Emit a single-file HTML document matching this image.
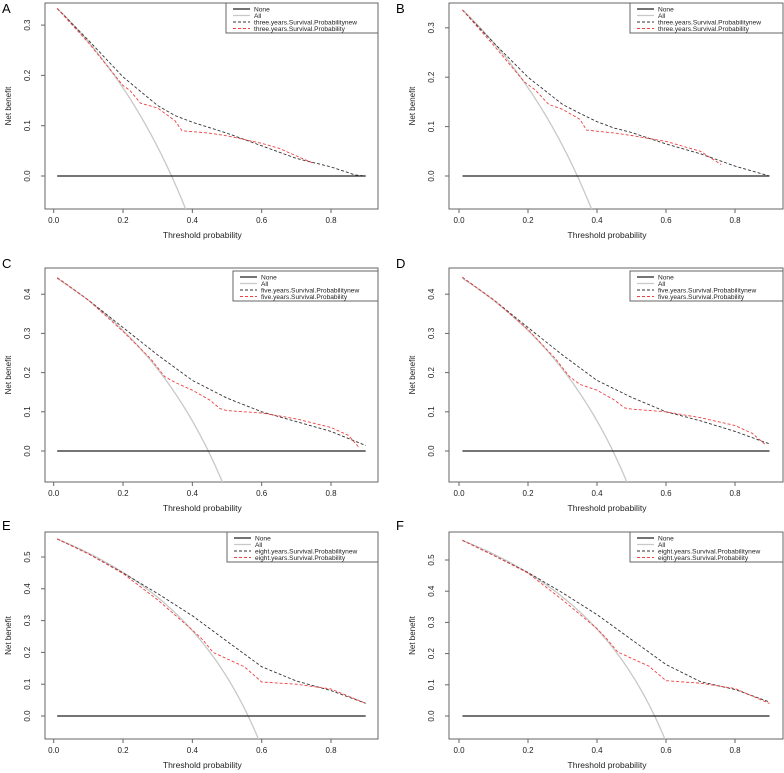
<!DOCTYPE html>
<html><head><meta charset="utf-8"><style>
html,body{margin:0;padding:0;background:#fff;overflow:hidden;}
svg{display:block;font-family:"Liberation Sans",sans-serif;}
</style></head><body>
<svg id="fig" width="784" height="773" viewBox="0 0 784 773" xmlns="http://www.w3.org/2000/svg"></svg>
<script>
// ---- data ----
const xTicks = [0.0, 0.2, 0.4, 0.6, 0.8];
const xTickLabels = ["0.0", "0.2", "0.4", "0.6", "0.8"];
const allPrevalence = [0.34, 0.343, 0.446, 0.446, 0.561, 0.567];
const yTicksA = [0, 0.1, 0.2, 0.3];
const yTicksC = [0, 0.1, 0.2, 0.3, 0.4];
const yTicksE = [0, 0.1, 0.2, 0.3, 0.4, 0.5];
const newTA = [0.01,0.1,0.2,0.3,0.35,0.4,0.5,0.6,0.7,0.8,0.87,0.9];
const newVA = [0.333,0.27,0.197,0.14,0.12,0.107,0.085,0.06,0.035,0.018,0.002,0.0];
const oldTA = [0.01,0.1,0.2,0.22,0.25,0.3,0.35,0.37,0.45,0.5,0.6,0.65,0.7,0.75];
const oldVA = [0.333,0.265,0.18,0.17,0.145,0.135,0.11,0.09,0.085,0.08,0.065,0.055,0.04,0.025];
const newTB = [0.01,0.1,0.2,0.3,0.35,0.4,0.45,0.5,0.6,0.7,0.8,0.9];
const newVB = [0.336,0.27,0.2,0.145,0.127,0.11,0.097,0.088,0.065,0.045,0.02,0.0];
const oldTB = [0.01,0.1,0.19,0.22,0.26,0.3,0.35,0.37,0.45,0.5,0.6,0.7,0.76];
const oldVB = [0.336,0.265,0.19,0.175,0.145,0.135,0.115,0.093,0.087,0.082,0.07,0.05,0.023];
const newTC = [0.01,0.1,0.2,0.3,0.4,0.5,0.6,0.7,0.8,0.9];
const newVC = [0.442,0.385,0.315,0.245,0.18,0.135,0.1,0.075,0.05,0.014];
const oldTC = [0.01,0.1,0.2,0.28,0.32,0.35,0.4,0.45,0.48,0.5,0.6,0.7,0.8,0.85,0.88];
const oldVC = [0.442,0.385,0.305,0.235,0.19,0.175,0.155,0.13,0.108,0.103,0.097,0.082,0.06,0.04,0.01];
const newTD = [0.01,0.1,0.2,0.3,0.4,0.5,0.6,0.7,0.8,0.9];
const newVD = [0.443,0.386,0.315,0.245,0.18,0.137,0.1,0.077,0.05,0.018];
const oldTD = [0.01,0.1,0.2,0.28,0.32,0.35,0.4,0.45,0.48,0.5,0.6,0.7,0.8,0.85,0.89];
const oldVD = [0.443,0.386,0.31,0.235,0.19,0.17,0.155,0.13,0.11,0.107,0.1,0.085,0.065,0.045,0.015];
const newTE = [0.01,0.1,0.2,0.3,0.4,0.5,0.6,0.7,0.8,0.9];
const newVE = [0.557,0.51,0.45,0.385,0.315,0.235,0.155,0.11,0.08,0.04];
const oldTE = [0.01,0.1,0.2,0.3,0.4,0.43,0.46,0.5,0.55,0.6,0.7,0.8,0.9];
const oldVE = [0.557,0.51,0.448,0.365,0.27,0.24,0.2,0.18,0.155,0.107,0.1,0.085,0.04];
const newTF = [0.01,0.1,0.2,0.3,0.4,0.5,0.6,0.7,0.8,0.9];
const newVF = [0.563,0.515,0.46,0.395,0.325,0.245,0.165,0.11,0.085,0.045];
const oldTF = [0.01,0.1,0.2,0.3,0.4,0.43,0.46,0.5,0.55,0.6,0.7,0.8,0.9];
const oldVF = [0.563,0.515,0.458,0.372,0.28,0.245,0.205,0.185,0.16,0.113,0.105,0.088,0.04];
const legendLabels3 = ["None","All","three.years.Survival.Probabilitynew","three.years.Survival.Probability"];
const legendLabels5 = ["None","All","five.years.Survival.Probabilitynew","five.years.Survival.Probability"];
const legendLabels8 = ["None","All","eight.years.Survival.Probabilitynew","eight.years.Survival.Probability"];

const panels = [
 {id:"A",L:45,R:378,T:3,B:209,x0:53.7,x8:331,y0:176,yu:503,yt:yTicksA,nt:newTA,nv:newVA,ot:oldTA,ov:oldVA,p:allPrevalence[0],lg:legendLabels3,lgx:226,lgy:3,lx:2,ly:13},
 {id:"B",L:449,R:783,T:3,B:209,x0:459,x8:735,y0:176,yu:494,yt:yTicksA,nt:newTB,nv:newVB,ot:oldTB,ov:oldVB,p:allPrevalence[1],lg:legendLabels3,lgx:630,lgy:3,lx:396,ly:13},
 {id:"C",L:45,R:378,T:268,B:482,x0:53.7,x8:331,y0:451,yu:392,yt:yTicksC,nt:newTC,nv:newVC,ot:oldTC,ov:oldVC,p:allPrevalence[2],lg:legendLabels5,lgx:233,lgy:271,lx:2,ly:268},
 {id:"D",L:449,R:783,T:268,B:482,x0:459,x8:735,y0:451,yu:392,yt:yTicksC,nt:newTD,nv:newVD,ot:oldTD,ov:oldVD,p:allPrevalence[3],lg:legendLabels5,lgx:630,lgy:271,lx:396,ly:268},
 {id:"E",L:45,R:378,T:532,B:739,x0:53.7,x8:331,y0:716,yu:318,yt:yTicksE,nt:newTE,nv:newVE,ot:oldTE,ov:oldVE,p:allPrevalence[4],lg:legendLabels8,lgx:227,lgy:532,lx:2,ly:530},
 {id:"F",L:449,R:783,T:532,B:739,x0:459,x8:735,y0:716,yu:312,yt:yTicksE,nt:newTF,nv:newVF,ot:oldTF,ov:oldVF,p:allPrevalence[5],lg:legendLabels8,lgx:630,lgy:532,lx:396,ly:530}
];

const NS="http://www.w3.org/2000/svg";
const svg=document.getElementById("fig");
function mk(tag,attrs,parent){const e=document.createElementNS(NS,tag);for(const k in attrs)e.setAttribute(k,attrs[k]);(parent||svg).appendChild(e);return e;}

panels.forEach(P=>{
  const g=mk("g",{});
  
  
  const sx=t=>P.x0+(P.x8-P.x0)*t/0.8;
  const sy=v=>P.y0-P.yu*v;
  const clip=mk("clipPath",{id:"clip"+P.id},g);
  mk("rect",{x:P.L,y:P.T,width:P.R-P.L,height:P.B-P.T},clip);
  const lt=mk("text",{x:P.lx,y:P.ly,"font-size":"13"},g);lt.textContent=P.id;
  
  
  const box=mk("rect",{x:P.L,y:P.T,width:P.R-P.L,height:P.B-P.T,fill:"none",stroke:"#666","stroke-width":"1"},g);
  
  
  xTicks.forEach((t,i)=>{
    mk("line",{x1:sx(t),x2:sx(t),y1:P.B,y2:P.B+4,stroke:"#666"},g);
    const tx=mk("text",{x:sx(t),y:P.B+14,"font-size":"8","text-anchor":"middle",fill:"#222"},g);
    tx.textContent=xTickLabels[i];
    
    
  });
  mk("line",{x1:sx(0),x2:sx(0.8),y1:P.B,y2:P.B,stroke:"#666"},g);
  const xt=mk("text",{x:(sx(0)+sx(0.8))/2+10,y:P.B+29,"font-size":"8.5","text-anchor":"middle",fill:"#222"},g);
  xt.textContent="Threshold probability";
  
  
  P.yt.forEach(v=>{
    mk("line",{x1:P.L-4,x2:P.L,y1:sy(v),y2:sy(v),stroke:"#666"},g);
    const yy=sy(v), xx=P.L-15;
    const ty=mk("text",{x:xx,y:yy,"font-size":"8","text-anchor":"middle",fill:"#222",transform:`rotate(-90 ${xx} ${yy})`},g);
    ty.textContent=v.toFixed(1);
    
    
  });
  mk("line",{x1:P.L,x2:P.L,y1:sy(P.yt[0]),y2:sy(P.yt[P.yt.length-1]),stroke:"#666"},g);
  const yc=(P.T+P.B)/2, yx=P.L-34;
  const yl=mk("text",{x:yx,y:yc,"font-size":"8","text-anchor":"middle",fill:"#222",transform:`rotate(-90 ${yx} ${yc})`},g);
  yl.textContent="Net benefit";
  
  
  const sg=mk("g",{"clip-path":`url(#clip${P.id})`},g);
  let d="";for(let t=0.01;t<=0.9;t+=0.005){const v=P.p-(1-P.p)*t/(1-t);d+=(d?"L":"M")+sx(t).toFixed(1)+","+sy(v).toFixed(1);}
  const all=mk("path",{d:d,fill:"none",stroke:"#c8c8c8","stroke-width":"1.3"},sg);
  
  
  const none=mk("line",{x1:sx(0.01),x2:sx(0.9),y1:sy(0),y2:sy(0),stroke:"#222","stroke-width":"1.2"},sg);
  
  
  const pts=(T,V)=>T.map((t,i)=>sx(t).toFixed(1)+","+sy(V[i]).toFixed(1)).join(" ");
  const nl=mk("polyline",{points:pts(P.nt,P.nv),fill:"none",stroke:"#333","stroke-width":"0.9","stroke-dasharray":"3,2"},sg);
  
  
  const ol=mk("polyline",{points:pts(P.ot,P.ov),fill:"none",stroke:"#f04040","stroke-width":"0.9","stroke-dasharray":"3,2"},sg);
  
  
  const lg=mk("g",{},g);
  
  
  mk("rect",{x:P.lgx,y:P.lgy,width:P.R-P.lgx,height:30,fill:"#fff",stroke:"#666"},lg);
  const styles=[{s:"#222",w:1.2,da:""},{s:"#c8c8c8",w:1.3,da:""},{s:"#333",w:0.9,da:"3,2"},{s:"#f04040",w:0.9,da:"3,2"}];
  P.lg.forEach((lab,i)=>{
    const yy=P.lgy+6+i*6.5;
    const a={x1:P.lgx+7,x2:P.lgx+24,y1:yy,y2:yy,stroke:styles[i].s,"stroke-width":styles[i].w};
    if(styles[i].da)a["stroke-dasharray"]=styles[i].da;
    mk("line",a,lg);
    const t=mk("text",{x:P.lgx+28,y:yy+2.3,"font-size":"6.6",fill:"#222"},lg);
    t.textContent=lab;
    
    
  });
});
</script>
</body></html>
